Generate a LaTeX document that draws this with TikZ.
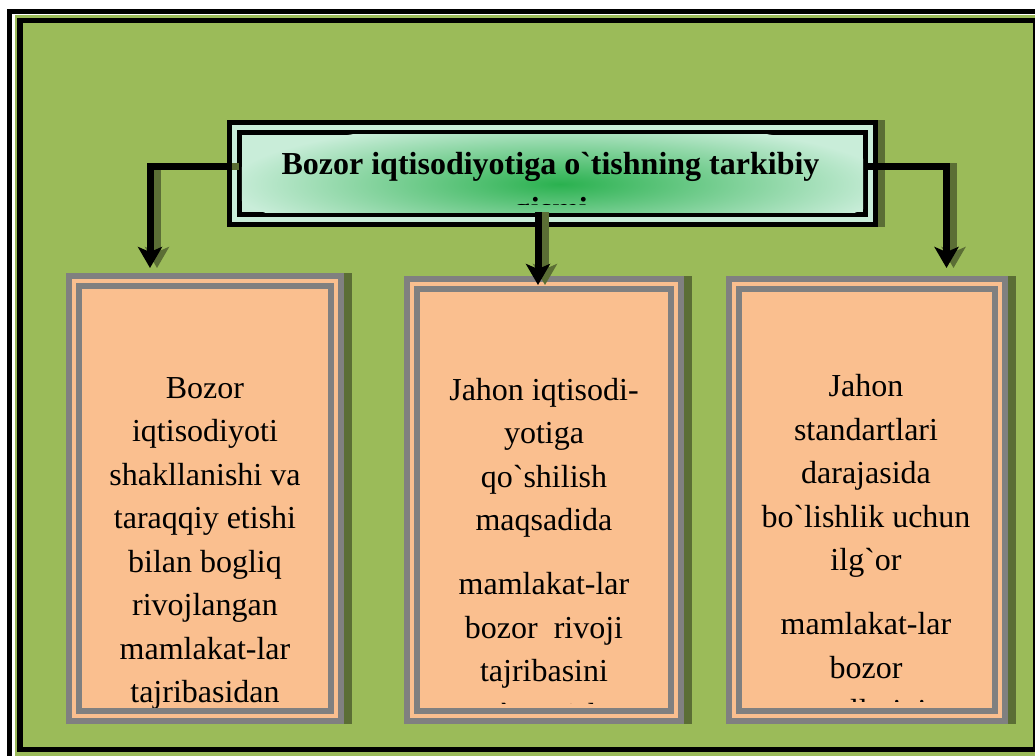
\documentclass[tikz,border=0pt]{standalone}
\usepackage{fontspec}
\setmainfont{Liberation Serif}[Ligatures=TeXOff]
\usetikzlibrary{arrows.meta,calc}
\definecolor{bggreen}{HTML}{9BBB59}
\definecolor{shadowolive}{HTML}{5B6E35}
\definecolor{peach}{HTML}{FABF8F}
\definecolor{framegray}{HTML}{808080}
\definecolor{mint}{HTML}{C9EDD9}
\definecolor{deepgreen}{HTML}{2AB14F}
\tikzset{
  titlebox/.style={rectangle, draw=black, line width=5pt, double=mint, double distance=5pt, fill=mint, outer sep=0pt, inner sep=0pt},
  textbox/.style={rectangle, draw=framegray, line width=6pt, double=peach, double distance=4pt, fill=peach, outer sep=0pt, inner sep=0pt},
  titletext/.style={align=center, font=\fontsize{32pt}{45pt}\selectfont\bfseries, inner sep=0pt, anchor=base},
  boxtext/.style={align=center, font=\fontsize{32pt}{43.5pt}\selectfont, inner sep=0pt, anchor=base},
  arrow/.style={line width=7pt, -{Stealth[length=21pt,width=24pt,inset=5pt]}},
  shadowarrow/.style={arrow, draw=shadowolive, transform canvas={xshift=7pt}},
}

\begin{document}
\begin{tikzpicture}[x=1pt, y=-1pt]
  \useasboundingbox (0,0) rectangle (1035,755);
  \clip (0,0) rectangle (1035,755);
  % page frame
  \fill[bggreen] (15,15) rectangle (1040,760);
  \draw[line width=5pt] (9.5,11) rectangle (1045,765);
  \draw[line width=5.5pt] (20,20.5) rectangle (1036,749.5);

  % title box
  \node (t) [titlebox, minimum width=636.25pt, minimum height=92.25pt] at (552.4,173.4) {};
  \fill[shadowolive] ($(t.north east)+(7.5,-7.5)$) rectangle ($(t.south east)+(14.5,7.5)$);
  \begin{scope}
    \clip (241.75,134.75) rectangle (863,212);
    \shade[inner color=deepgreen, outer color=mint] (560,184) ellipse [x radius=330pt, y radius=64pt];
  \end{scope}
  % base anchor sits on the last line
  \begin{scope}
    \clip (241.75,134.75) rectangle (863,204);
    \node (tt) [titletext] at (550.5,219) {Bozor iqtisodiyotiga o`tishning tarkibiy\\qismi};
  \end{scope}

  % three boxes
  \node (lb) [textbox, minimum width=262pt, minimum height=434.5pt] at (205,498.25) {};
  \node (mb) [textbox, minimum width=263.5pt, minimum height=432pt] at (543.75,500) {};
  \node (rb) [textbox, minimum width=265.5pt, minimum height=432pt] at (866.75,500) {};
  \foreach \b in {lb,mb,rb}
    \fill[shadowolive] ($(\b.north east)+(8,-8)$) rectangle ($(\b.south east)+(16,8)$);

  \begin{scope}
    \clip (82,289) rectangle (328,707.5);
    \node (lt) [boxtext] at (205,702.5) {Bozor\\iqtisodiyoti\\shakllanishi va\\taraqqiy etishi\\bilan bogliq\\rivojlangan\\mamlakat-lar\\tajribasidan};
  \end{scope}
  \begin{scope}
    \clip (420,292) rectangle (667.5,703.5);
    \node (mt) [boxtext] at (544,725) {Jahon iqtisodi-\\yotiga\\qo`shilish\\maqsadida\\[20.5pt]mamlakat-lar\\bozor\ \ rivoji\\tajribasini\\o`rganish};
  \end{scope}
  \begin{scope}
    \clip (742,292) rectangle (991.5,701);
    \node (rt) [boxtext] at (866,721.5) {Jahon\\standartlari\\darajasida\\bo`lishlik uchun\\ilg`or\\[20.5pt]mamlakat-lar\\bozor\\usullarini};
  \end{scope}

  % connectors
  \coordinate (la) at (150,268);
  \coordinate (ra) at (946.5,268);
  \coordinate (ma) at (538,285);
  \coordinate (ms) at ([yshift=7.5pt]t.south);
  \draw[shadowarrow] ([xshift=-2pt,yshift=6.9pt]t.west) -| (la);
  \draw[arrow] ([xshift=-2pt,yshift=6.9pt]t.west) -| (la);
  \draw[shadowarrow] ([xshift=-5pt,yshift=6.9pt]t.east) -| (ra);
  \draw[arrow] ([xshift=-5pt,yshift=6.9pt]t.east) -| (ra);
  \draw[shadowarrow] (ms -| ma) -- (ma);
  \draw[arrow] (ms -| ma) -- (ma);
\end{tikzpicture}
\end{document}
